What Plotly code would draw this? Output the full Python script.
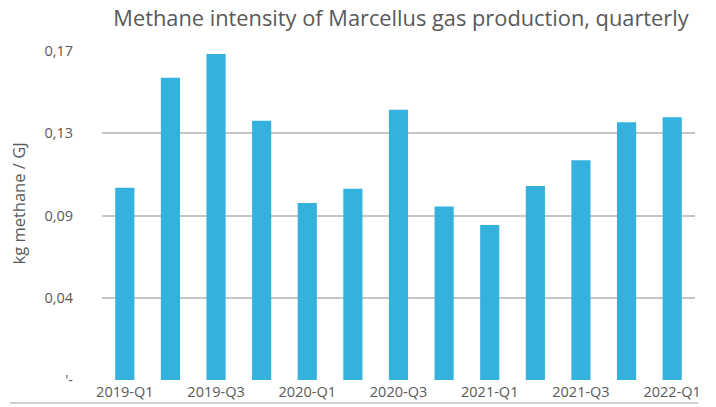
import plotly.graph_objects as go

categories = ["2019-Q1", "2019-Q2", "2019-Q3", "2019-Q4",
              "2020-Q1", "2020-Q2", "2020-Q3", "2020-Q4",
              "2021-Q1", "2021-Q2", "2021-Q3", "2021-Q4",
              "2022-Q1"]
intensity = [0.0993, 0.1562, 0.1684, 0.1339, 0.0914, 0.0988, 0.1396,
             0.0896, 0.0801, 0.1003, 0.1136, 0.1332, 0.1358]
y_tickvals = [0, 0.0425, 0.085, 0.1275, 0.17]
y_ticktext = ["'-", "0,04", "0,09", "0,13", "0,17"]
x_tickvals = categories[::2]

FONT = "Open Sans"
TXT = "#595959"

fig = go.Figure(go.Bar(
    x=categories, y=intensity,
    marker=dict(color="#35b1de", line=dict(width=0)),
    hoverinfo="skip",
))

fig.update_layout(
    width=716, height=407,
    margin=dict(l=102, r=21, t=51, b=27, autoexpand=False),
    paper_bgcolor="white", plot_bgcolor="white",
    bargap=0.58,
    showlegend=False,
    font=dict(family=FONT, color=TXT),
    title=dict(text="Methane intensity of Marcellus gas production, quarterly",
               x=401 / 716, xanchor="center", xref="container",
               y=1 - 18 / 407, yanchor="middle", yref="container",
               font=dict(family=FONT, size=21.8, color=TXT)),
    xaxis=dict(
        tickmode="array", tickvals=x_tickvals, ticktext=x_tickvals,
        showgrid=False, showline=False, zeroline=False, ticks="",
        tickfont=dict(family=FONT, size=14.5, color=TXT),
        ticklabelstandoff=1, automargin=False,
    ),
    yaxis=dict(
        range=[0, 0.17],
        tickmode="array", tickvals=y_tickvals, ticktext=y_ticktext,
        showgrid=True, gridcolor="#c6c6c6", gridwidth=1.5,
        zeroline=False, showline=False, ticks="",
        tickfont=dict(family=FONT, size=14.5, color=TXT),
        ticklabelstandoff=28, automargin=False,
    ),
    annotations=[dict(
        text="kg methane / GJ", textangle=-90,
        xref="paper", yref="paper", x=0, y=0.5,
        xanchor="center", yanchor="middle", xshift=-84, yshift=12,
        showarrow=False, font=dict(family=FONT, size=16.5, color=TXT),
    )],
    shapes=[dict(
        type="line", xref="paper", yref="paper",
        x0=-0.155, x1=1.005, y0=-0.07, y1=-0.07,
        line=dict(color="#bfbfbf", width=1.5),
    )],
)

fig.write_html(
    "out.html",
    config={"displayModeBar": False},
    post_script="document.body.style.margin='0';"
                "document.body.style.overflow='hidden';",
)
